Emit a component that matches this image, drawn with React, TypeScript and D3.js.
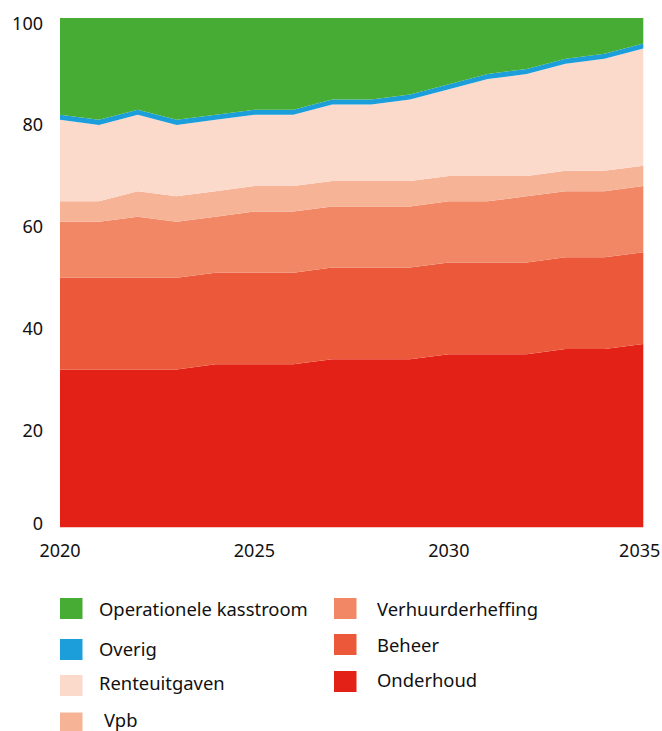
import React from "react";
import * as d3 from "d3";

const years = [2020, 2021, 2022, 2023, 2024, 2025, 2026, 2027, 2028, 2029, 2030, 2031, 2032, 2033, 2034, 2035];

// layer values (bottom to top)
const onderhoud = [31, 31, 31, 31, 32, 32, 32, 33, 33, 33, 34, 34, 34, 35, 35, 36];
const beheer = [18, 18, 18, 18, 18, 18, 18, 18, 18, 18, 18, 18, 18, 18, 18, 18];
const verhuurderheffing = [11, 11, 12, 11, 11, 12, 12, 12, 12, 12, 12, 12, 13, 13, 13, 13];
const vpb = [4, 4, 5, 5, 5, 5, 5, 5, 5, 5, 5, 5, 4, 4, 4, 4];
const renteuitgaven = [16, 15, 15, 14, 14, 14, 14, 15, 15, 16, 17, 19, 20, 21, 22, 23];
const overig = [1, 1, 1, 1, 1, 1, 1, 1, 1, 1, 1, 1, 1, 1, 1, 1];
const operationeleKasstroom = years.map((_, i) =>
  100 - onderhoud[i] - beheer[i] - verhuurderheffing[i] - vpb[i] - renteuitgaven[i] - overig[i]
);

const seriesKeys = ["Onderhoud", "Beheer", "Verhuurderheffing", "Vpb", "Renteuitgaven", "Overig", "Operationele kasstroom"];
const seriesValues = [onderhoud, beheer, verhuurderheffing, vpb, renteuitgaven, overig, operationeleKasstroom];
const seriesColors = ["#E32116", "#EC583A", "#F28766", "#F6B396", "#FBDACC", "#1B9ED9", "#46AC34"];

const yTicks = [0, 20, 40, 60, 80, 100];
const xTicks = [2020, 2025, 2030, 2035];

const legendLeft = ["Operationele kasstroom", "Overig", "Renteuitgaven", "Vpb"];
const legendRight = ["Verhuurderheffing", "Beheer", "Onderhoud"];

const W = 662;
const H = 731;
const M = { left: 60, right: 643.3, top: 18, bottom: 527.3 };
const FONT = "'Noto Sans', sans-serif";

export default function App() {
  const x = d3.scaleLinear().domain([2020, 2035]).range([M.left, M.right]);
  const y = d3.scaleLinear().domain([0, 100]).range([M.bottom, M.top]);

  const table = years.map((yr, i) => {
    const row: any = { year: yr };
    seriesKeys.forEach((k, j) => (row[k] = seriesValues[j][i]));
    return row;
  });
  const stacked = d3.stack<any>().keys(seriesKeys)(table);
  const area = d3
    .area<any>()
    .x((d) => x(d.data.year))
    .y0((d) => y(d[0]))
    .y1((d) => y(d[1]));

  const colorOf = (name: string) => seriesColors[seriesKeys.indexOf(name)];

  const leftRows = [
    { top: 598, base: 616 },
    { top: 639, base: 656 },
    { top: 675, base: 690 },
    { top: 712.5, base: 727 },
  ];
  const rightRows = [
    { top: 598, base: 616 },
    { top: 634, base: 652 },
    { top: 671, base: 686.5 },
  ];

  return (
    <div style={{ position: "absolute", left: 0, top: 0 }}>
      <svg width={W} height={H} style={{ display: "block" }} fontFamily={FONT}>
        <rect width={W} height={H} fill="#fff" />
        {stacked.map((s) => (
          <path key={s.key} d={area(s) || ""} fill={colorOf(s.key)} />
        ))}
        {yTicks.map((t) => (
          <text
            key={t}
            x={43}
            y={y(t) + (t === 0 ? 3 : 11.5)}
            textAnchor="end"
            fontSize={18}
            fill="#111"
          >
            {t}
          </text>
        ))}
        {xTicks.map((t, i) => (
          <text
            key={t}
            x={i === xTicks.length - 1 ? x(t) + 17 : x(t)}
            y={557}
            textAnchor={i === xTicks.length - 1 ? "end" : "middle"}
            fontSize={18}
            fill="#111"
          >
            {t}
          </text>
        ))}
        {legendLeft.map((name, i) => (
          <g key={name}>
            <rect x={60} y={leftRows[i].top} width={22.5} height={21} fill={colorOf(name)} />
            <text x={name === "Vpb" ? 104 : 99} y={leftRows[i].base} fontSize={18.4} fill="#111">
              {name}
            </text>
          </g>
        ))}
        {legendRight.map((name, i) => (
          <g key={name}>
            <rect x={334} y={rightRows[i].top} width={22.5} height={21} fill={colorOf(name)} />
            <text x={377} y={rightRows[i].base} fontSize={18.4} fill="#111">
              {name}
            </text>
          </g>
        ))}
      </svg>
    </div>
  );
}
